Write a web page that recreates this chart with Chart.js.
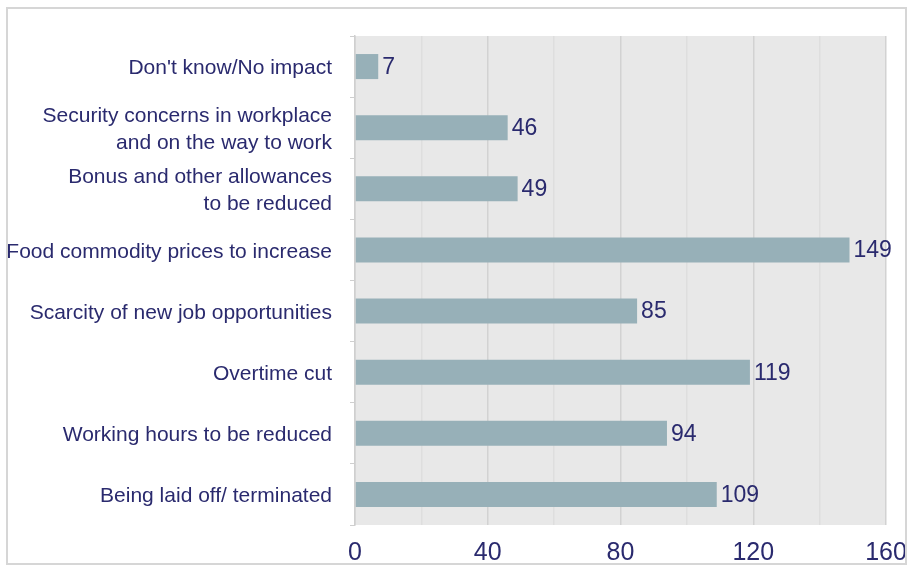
<!DOCTYPE html>
<html>
<head>
<meta charset="utf-8">
<script src="https://cdn.jsdelivr.net/npm/chart.js@4/dist/chart.umd.min.js"></script>
<style>
  html, body { margin: 0; padding: 0; background: #ffffff; }
  #wrap { position: relative; width: 907px; height: 566px; }
  #frame { position: absolute; left: 6px; top: 7px; width: 897px; height: 554px; border: 2px solid #d6d6d6; box-sizing: content-box; pointer-events: none; }
  canvas { position: absolute; left: 0; top: 0; }
</style>
</head>
<body>
<div id="wrap">
  <canvas id="c" width="907" height="566"></canvas>
  <div id="frame"></div>
</div>
<script>
const categories = [
  "Don't know/No impact",
  ["Security concerns in workplace", "and on the way to work"],
  ["Bonus and other allowances", "to be reduced"],
  "Food commodity prices to increase",
  "Scarcity of new job opportunities",
  "Overtime cut",
  "Working hours to be reduced",
  "Being laid off/ terminated"
];
const values = [7, 46, 49, 149, 85, 119, 94, 109];
const xTickLabels = [0, 40, 80, 120, 160];

const TEXT = '#2a2a6e';
const FONT = "'Liberation Sans', Arial, sans-serif";

const plotBg = {
  id: 'plotBg',
  beforeDraw(chart) {
    const { ctx, chartArea: a } = chart;
    ctx.save();
    ctx.fillStyle = '#e8e8e8';
    ctx.fillRect(a.left, a.top, a.right - a.left, a.bottom - a.top);
    ctx.restore();
  }
};

const valueLabels = {
  id: 'valueLabels',
  afterDatasetsDraw(chart) {
    const { ctx } = chart;
    const meta = chart.getDatasetMeta(0);
    ctx.save();
    ctx.fillStyle = TEXT;
    ctx.font = "23px " + FONT;
    ctx.textAlign = 'left';
    ctx.textBaseline = 'middle';
    meta.data.forEach((bar, i) => {
      ctx.fillText(String(values[i]), bar.x + 4, bar.y + 1);
    });
    ctx.restore();
  }
};

new Chart(document.getElementById('c'), {
  type: 'bar',
  data: {
    labels: categories,
    datasets: [{
      data: values,
      backgroundColor: '#97b0b8',
      borderWidth: 0,
      barPercentage: 0.41,
      categoryPercentage: 1.0
    }]
  },
  options: {
    indexAxis: 'y',
    responsive: false,
    animation: false,
    layout: { padding: { left: 0, right: 21, top: 36, bottom: 0 } },
    plugins: { legend: { display: false }, tooltip: { enabled: false } },
    scales: {
      x: {
        min: 0, max: 160,
        afterFit(scale) { scale.height = 41; scale.paddingLeft = 0; scale.paddingRight = 0; },
        border: { display: false },
        grid: {
          drawTicks: false,
          color: (c) => (c.tick && c.tick.value % 40 === 0) ? '#d2d2d2' : '#dedede',
          lineWidth: 1.5
        },
        ticks: {
          stepSize: 20,
          autoSkip: false,
          maxRotation: 0,
          padding: 13,
          color: TEXT,
          font: { family: FONT, size: 25 },
          callback: (v) => xTickLabels.includes(v) ? String(v) : ''
        }
      },
      y: {
        afterFit(scale) { scale.width = 355; },
        border: { display: true, color: '#cfcfcf', width: 1.5 },
        grid: { drawOnChartArea: false, drawTicks: true, tickLength: 5, offset: true, color: '#cfcfcf' },
        ticks: {
          padding: 18,
          labelOffset: 2,
          color: TEXT,
          font: { family: FONT, size: 21, lineHeight: 1.25 }
        }
      }
    }
  },
  plugins: [plotBg, valueLabels]
});
</script>
</body>
</html>
